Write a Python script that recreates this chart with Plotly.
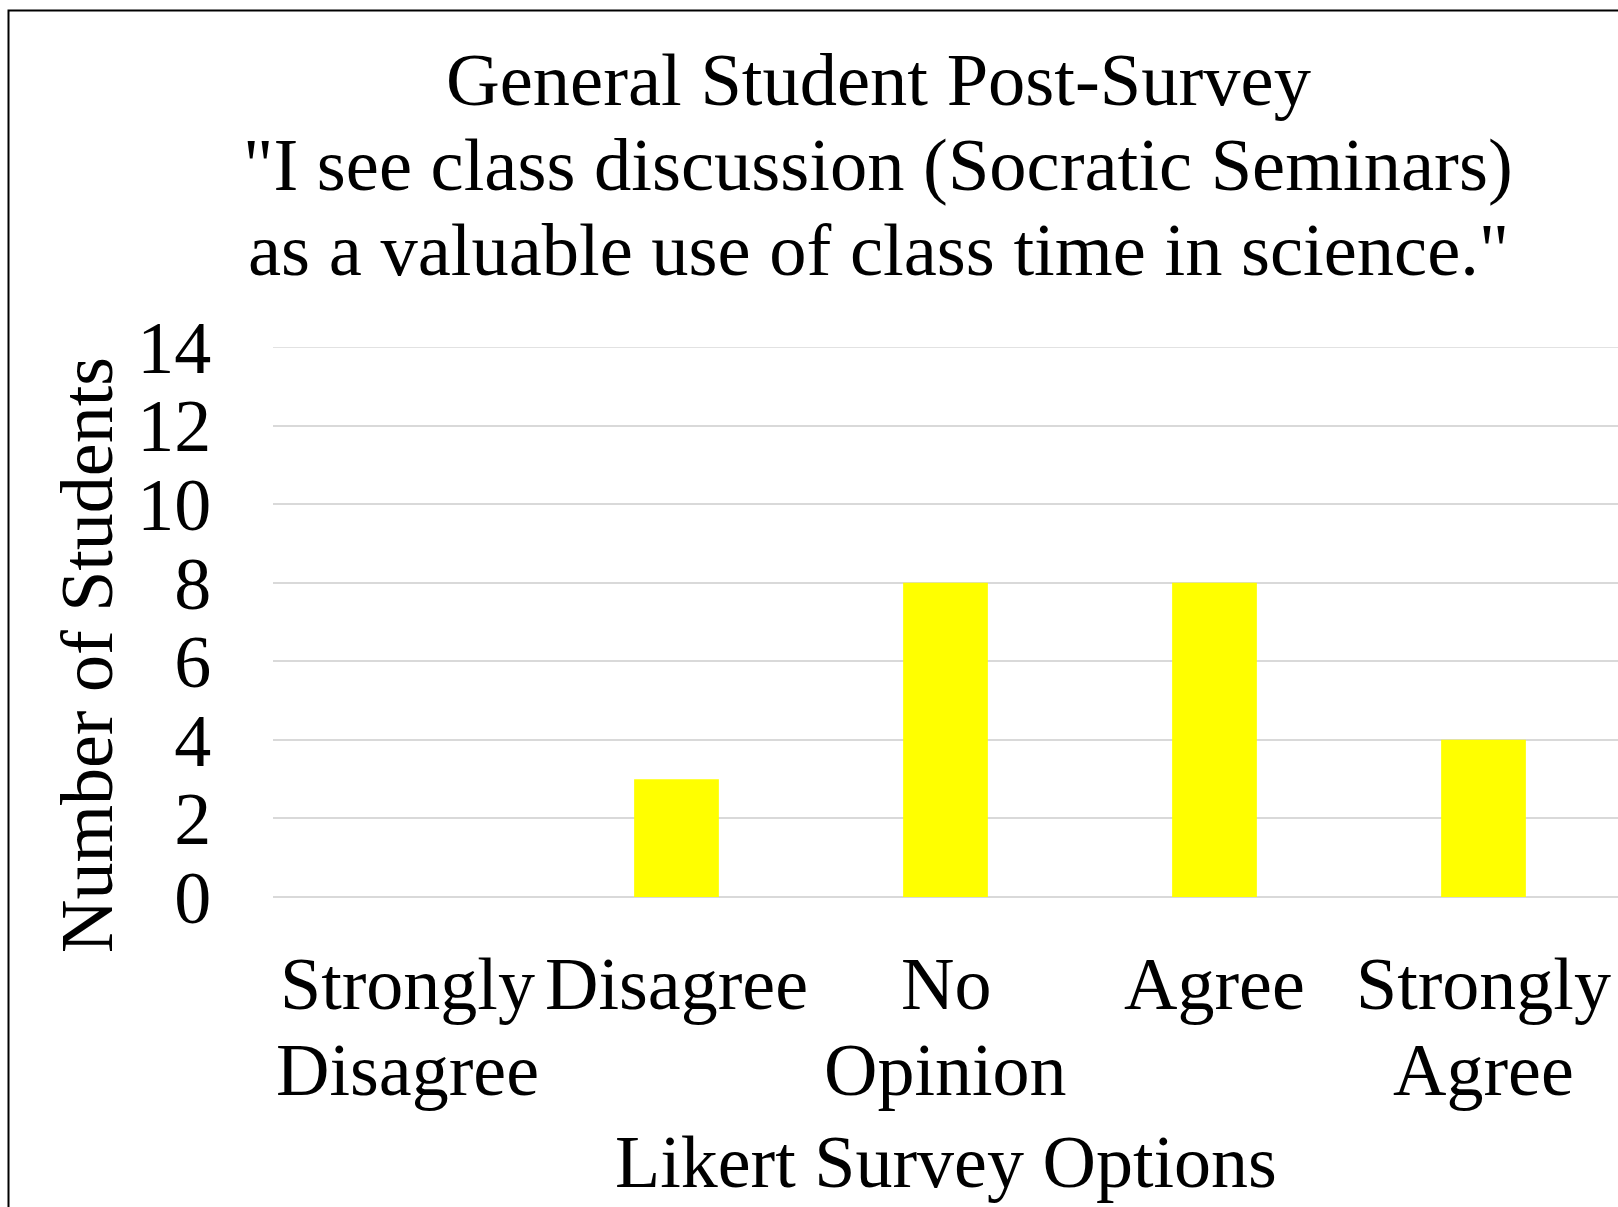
import plotly.graph_objects as go

# ---- data ----
categories = ["Strongly Disagree", "Disagree", "No Opinion", "Agree", "Strongly Agree"]
students = [0, 3, 8, 8, 4]
category_label_lines = [["Strongly", "Disagree"], ["Disagree"], ["No", "Opinion"], ["Agree"], ["Strongly", "Agree"]]
y_ticks = [0, 2, 4, 6, 8, 10, 12, 14]
title_lines = [
    "General Student Post-Survey",
    "\"I see class discussion (Socratic Seminars)",
    "as a valuable use of class time in science.\"",
]
x_title = "Likert Survey Options"
y_title = "Number of Students"

# ---- layout geometry (pixels) ----
W, H = 1618, 1207
L, R = 273, 1618
T, B = 347, 897
F = 74
FT = 74.5
FONT = "Liberation Serif, Times New Roman, serif"


def px2x(px):
    return (px - L) / (R - L)


def py2y(py):
    return (B - py) / (B - T)


def mid_from_baseline(baseline, f=F):
    return baseline - 0.3375 * f


fig = go.Figure(
    go.Bar(x=categories, y=students, marker=dict(color="#FFFF00", line=dict(width=0)))
)

annotations = []
title_baselines = [105, 190, 275]
for line, bl in zip(title_lines, title_baselines):
    annotations.append(dict(
        text=line, xref="paper", yref="paper", x=px2x(878), y=py2y(mid_from_baseline(bl, FT)),
        xanchor="center", yanchor="middle", showarrow=False,
        font=dict(family=FONT, size=FT, color="black"),
    ))

cat_baselines = [1009, 1095]
for cat, lines in zip(categories, category_label_lines):
    for i, line in enumerate(lines):
        annotations.append(dict(
            text=line, xref="x", yref="paper", x=cat, y=py2y(mid_from_baseline(cat_baselines[i])),
            xanchor="center", yanchor="middle", showarrow=False,
            font=dict(family=FONT, size=F, color="black"),
        ))

annotations.append(dict(
    text=x_title, xref="paper", yref="paper", x=px2x(946), y=py2y(mid_from_baseline(1187)),
    xanchor="center", yanchor="middle", showarrow=False,
    font=dict(family=FONT, size=F, color="black"),
))
annotations.append(dict(
    text=y_title, xref="paper", yref="paper", x=px2x(87), y=py2y(655),
    xanchor="center", yanchor="middle", showarrow=False, textangle=-90,
    font=dict(family=FONT, size=F, color="black"),
))

fig.update_layout(
    width=W, height=H,
    margin=dict(l=L, r=W - R, t=T, b=H - B, pad=0),
    paper_bgcolor="white", plot_bgcolor="white",
    bargap=0.685,
    showlegend=False,
    annotations=annotations,
    font=dict(family=FONT, size=F, color="black"),
    shapes=[
        dict(
            type="line", xref="paper", yref="y", x0=0, x1=1, y0=y_ticks[-1], y1=y_ticks[-1],
            line=dict(color="#d9d9d9", width=1.5), layer="below",
        ),
        dict(
            type="rect", xref="paper", yref="paper",
            x0=px2x(8.5), x1=px2x(1640), y0=py2y(1230), y1=py2y(10.5),
            line=dict(color="black", width=2), fillcolor="rgba(0,0,0,0)", layer="above",
        ),
    ],
)
fig.update_xaxes(
    showticklabels=False, showgrid=False, zeroline=False, showline=False, ticks="",
    range=[-0.5, 4.5], fixedrange=True,
)
fig.update_yaxes(
    range=[0, 14], tickvals=y_ticks, ticktext=[str(v) for v in y_ticks],
    showgrid=True, gridcolor="#d9d9d9", gridwidth=1.5,
    zeroline=True, zerolinecolor="#d9d9d9", zerolinewidth=1.5,
    showline=False, ticks="outside", ticklen=46, tickcolor="rgba(0,0,0,0)",
    tickfont=dict(family=FONT, size=F, color="black"), fixedrange=True,
)

fig.write_html("out.html")
